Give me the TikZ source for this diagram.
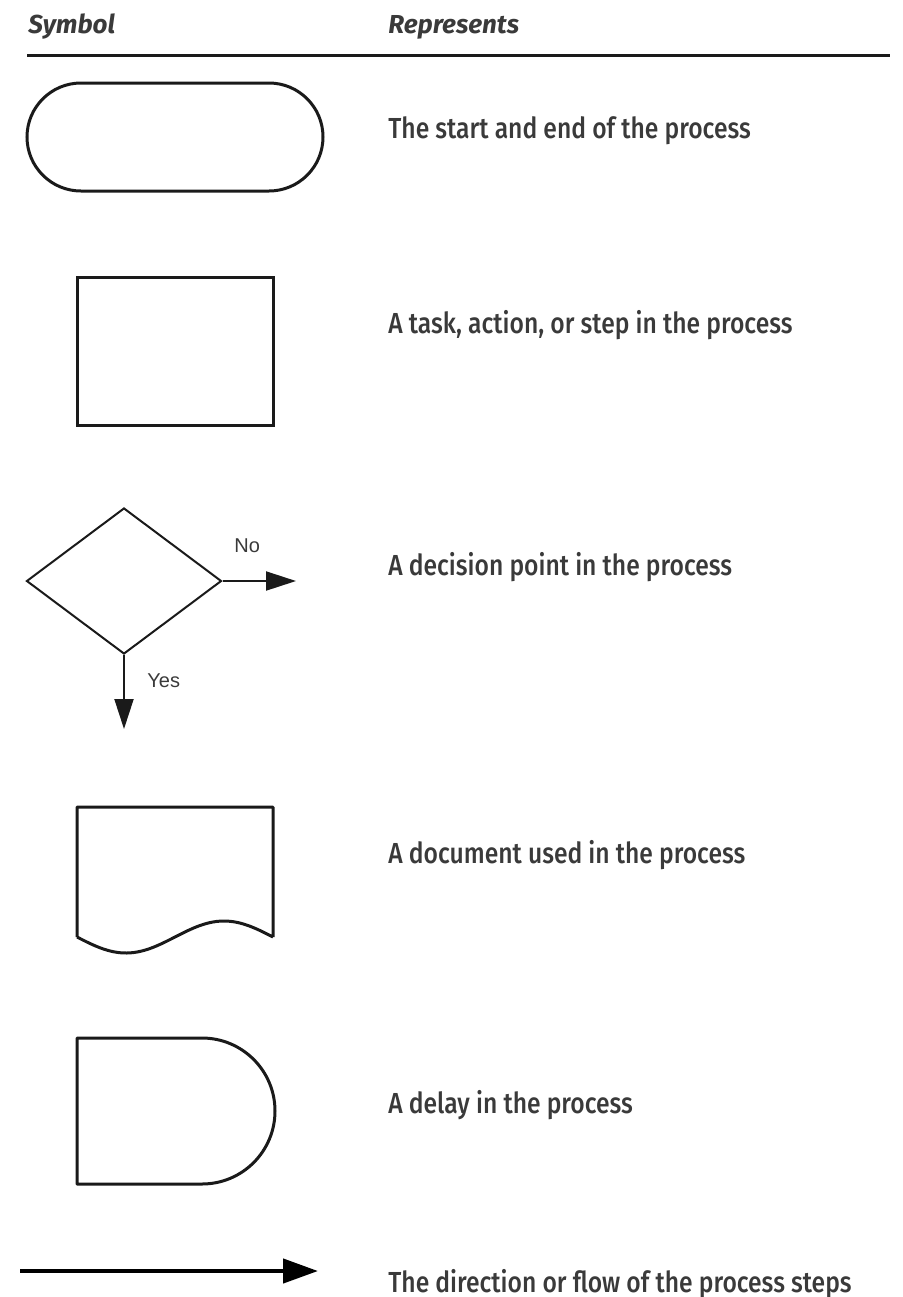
\documentclass[tikz,border=0pt]{standalone}
\usepackage{fontspec}
\setmainfont[FakeStretch=0.85]{Fira Sans Medium}
\newfontfamily\hdrfont{Fira Sans}
\newfontfamily\arialfont{Liberation Sans}
\usetikzlibrary{shapes.geometric,shapes.misc,arrows.meta}
\definecolor{txt}{HTML}{3A3A3A}
\definecolor{ink}{HTML}{1A1A1A}
\tikzset{
  desc/.style={anchor=base west,inner sep=0pt,text=txt,font=\fontsize{14.5}{17}\selectfont},
  hdr/.style={anchor=base west,inner sep=0pt,text=txt,font=\hdrfont\bfseries\itshape\fontsize{13}{15}\selectfont},
  symline/.style={draw=ink,line width=1.5pt},
  thinline/.style={draw=ink,line width=1pt},
  lbl/.style={inner sep=0pt,text=txt,font=\arialfont\fontsize{10}{12}\selectfont},
  smallarrow/.style={thinline,-{Triangle[length=15pt,width=9.5pt]}},
  bigarrow/.style={draw=black,line width=2.2pt,-{Triangle[length=17.5pt,width=12pt]}}
}
\begin{document}
\begin{tikzpicture}[x=0.5pt,y=0.5pt]
\useasboundingbox (0,0) rectangle (902,-1297);
% header
\node[hdr] (hsym) at (28,-33) {Symbol};
\node[hdr] (hrep) at (388,-33) {Represents};
\coordinate (hl1) at (27,-55);
\coordinate (hl2) at (890,-55);
\draw[draw=ink,line width=1.5pt] (hl1) -- (hl2);
% terminal
\node[symline,rounded rectangle,minimum width=148pt,minimum height=54pt,inner sep=0pt] (term) at (175,-137) {};
\node[desc] (tterm) at (388,-138) {The start and end of the process};
% task
\node[symline,rectangle,minimum width=98pt,minimum height=74pt,inner sep=0pt] (task) at (175,-351) {};
\node[desc] (ttask) at (388,-333) {A task, action, or step in the process};
% decision
\node[thinline,diamond,minimum width=97.5pt,minimum height=73pt,inner sep=0pt] (dec) at (124,-581) {};
\coordinate (noend) at (296,-581);
\coordinate (yesend) at (124,-729);
\draw[smallarrow] (dec.east) -- (noend);
\draw[smallarrow] (dec.south) -- (yesend);
\node[lbl,anchor=base west] (no) at (234,-552) {No};
\node[lbl,anchor=base west] (yes) at (147,-687) {Yes};
\node[desc] (tdec) at (388,-575) {A decision point in the process};
% document
\node[inner sep=0pt,minimum width=98pt,minimum height=65pt] (doc) at (175,-872) {};
\draw[symline,line join=round] (77,-937) -- (77,-807) -- (273,-807) -- (273,-937)
  plot[domain=1:0,samples=60] ({77+196*\x},{-937-16*sin(360*\x)});
\node[desc] (tdoc) at (388,-863) {A document used in the process};
% delay
\node[inner sep=0pt,minimum width=98pt,minimum height=73pt] (delay) at (175,-1111) {};
\draw[symline,line join=round] (77,-1038) -- (202,-1038) arc[start angle=90,end angle=-90,radius=73] -- (77,-1184) -- cycle;
\node[desc] (tdelay) at (388,-1113) {A delay in the process};
% flow arrow
\coordinate (fa1) at (20,-1271);
\coordinate (fa2) at (318,-1271);
\draw[bigarrow] (fa1) -- (fa2);
\node[desc] (tflow) at (388,-1292) {The direction or flow of the process steps};
\end{tikzpicture}
\end{document}
